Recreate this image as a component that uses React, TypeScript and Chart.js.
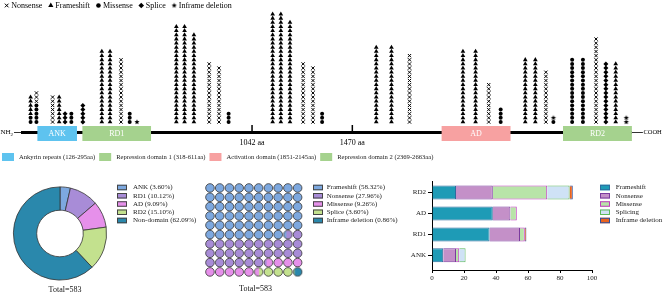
import React, { useEffect, useRef } from 'react';
import { Chart, registerables } from 'chart.js';
import { drawPoint } from 'chart.js/helpers';

Chart.register(...registerables);

const FONT = '"Liberation Serif", "Times New Roman", serif';
const f = (size: number) => `${size}px ${FONT}`;

// ---------------- Panel A: mutation map along the protein ----------------
const mutationTypes = ['Nonsense', 'Frameshift', 'Missense', 'Splice', 'Inframe deletion'];
// each entry is one stacked segment; entries sharing a position stack bottom-up
const clusterAa = [97, 97, 122, 122, 191, 219, 244, 271, 320, 401, 436, 483, 520, 551, 719, 754, 794, 859, 901, 942,
  1130, 1165, 1204, 1260, 1302, 1341, 1572, 1637, 1714, 1942, 1996, 2052, 2103, 2208, 2251, 2296, 2328, 2328,
  2408, 2454, 2510, 2552, 2594, 2639];
const clusterType = ['Missense', 'Frameshift', 'Missense', 'Nonsense', 'Nonsense', 'Frameshift', 'Splice', 'Missense',
  'Splice', 'Frameshift', 'Frameshift', 'Nonsense', 'Missense', 'Inframe deletion', 'Frameshift', 'Frameshift',
  'Frameshift', 'Nonsense', 'Nonsense', 'Missense', 'Frameshift', 'Frameshift', 'Frameshift', 'Nonsense', 'Nonsense',
  'Missense', 'Frameshift', 'Frameshift', 'Nonsense', 'Frameshift', 'Frameshift', 'Nonsense', 'Missense', 'Frameshift',
  'Frameshift', 'Nonsense', 'Missense', 'Inframe deletion', 'Missense', 'Missense', 'Nonsense', 'Splice', 'Frameshift',
  'Inframe deletion'];
const clusterCount = [2, 5, 5, 3, 7, 7, 3, 3, 5, 18, 18, 16, 3, 1, 24, 24, 22, 15, 14, 3, 27, 27, 25, 15, 14, 3, 19,
  19, 17, 18, 18, 10, 4, 16, 16, 13, 1, 1, 16, 16, 21, 15, 15, 2];
const proteinLength = 2663;
const axisTickAa = [1042, 1470];
const domainNames = ['ANK', 'RD1', 'AD', 'RD2'];
const domainLegendNames = ['Ankyrin repeats', 'Repression domain 1', 'Activation domain', 'Repression domain 2'];
const domainStart = [126, 318, 1851, 2369];
const domainEnd = [295, 611, 2145, 2663];
const domainColors = ['#5EC3EF', '#A5D28E', '#F7A1A1', '#A5D28E'];

// ---------------- Panel B: share by domain ----------------
const shareLabels = ['ANK', 'RD1', 'AD', 'RD2', 'Non-domain'];
const sharePct = [3.6, 10.12, 9.09, 15.1, 62.09];
const shareColors = ['#7DA8DF', '#A88CD7', '#E690EA', '#C3E18E', '#2A88AC'];

// ---------------- Panel C: share by mutation type ----------------
const typeLabels = ['Frameshift', 'Nonsense', 'Missense', 'Splice', 'Inframe deletion'];
const typePct = [58.32, 27.96, 9.26, 3.6, 0.86];
const typeColors = ['#7DA8DF', '#A88CD7', '#E690EA', '#C3E18E', '#2A88AC'];
const totalMutations = 583;

// ---------------- Panel D: mutation types per domain ----------------
const barDomains = ['ANK', 'RD1', 'AD', 'RD2'];
const barTypes = ['Frameshift', 'Nonsense', 'Missense', 'Splicing', 'Inframe deletion'];
const barFrameshift = [7, 36, 38, 15];
const barNonsense = [8, 19, 11, 23];
const barMissense = [2, 3, 4, 34];
const barSplicing = [4, 0, 0, 14];
const barInframe = [0, 1, 0, 2];
const barFill = ['#1E9BB6', '#C490C8', '#B8E4A8', '#CFE2F6', '#EA6420'];
const barStroke = ['#2D6B9E', '#7B3A9E', '#C23CC2', '#5DB85D', '#2D4F9E'];

// ---------------- helpers ----------------
function makeStar(r: number) {
  const s = Math.ceil(2 * r + 2);
  const c = document.createElement('canvas');
  c.width = s; c.height = s;
  const g = c.getContext('2d')!;
  g.fillStyle = '#000';
  g.beginPath();
  for (let i = 0; i < 10; i++) {
    const rr = i % 2 === 0 ? r : r * 0.45;
    const a = -Math.PI / 2 + (i * Math.PI) / 5;
    g.lineTo(s / 2 + rr * Math.cos(a), s / 2 + rr * Math.sin(a));
  }
  g.closePath();
  g.fill();
  return c;
}

function splitCircle(r: number, colA: string, colB: string, frac: number) {
  const s = Math.ceil(2 * r + 2);
  const c = document.createElement('canvas');
  c.width = s; c.height = s;
  const g = c.getContext('2d')!;
  const cx = s / 2, cy = s / 2;
  g.save();
  g.beginPath(); g.arc(cx, cy, r, 0, Math.PI * 2); g.clip();
  g.fillStyle = colB; g.fillRect(0, 0, s, s);
  g.fillStyle = colA; g.fillRect(cx - r, 0, 2 * r * frac, s);
  g.restore();
  g.beginPath(); g.arc(cx, cy, r, 0, Math.PI * 2);
  g.strokeStyle = '#333'; g.lineWidth = 0.8; g.stroke();
  return c;
}

function stackedPoints(type: string) {
  const heights: Record<number, number> = {};
  const pts: { x: number; y: number }[] = [];
  clusterAa.forEach((aa, i) => {
    const base = heights[aa] || 0;
    if (clusterType[i] === type) {
      for (let k = 1; k <= clusterCount[i]; k++) pts.push({ x: aa, y: base + k });
    }
    heights[aa] = base + clusterCount[i];
  });
  return pts;
}

type LegendItem = { label: string; fill: string; stroke: string };
function drawBoxLegend(ctx: CanvasRenderingContext2D, items: LegendItem[], x: number, y0: number, dy: number, textX: number) {
  ctx.save();
  ctx.font = f(7);
  ctx.textBaseline = 'middle';
  ctx.textAlign = 'left';
  items.forEach((it, i) => {
    const y = y0 + i * dy;
    ctx.fillStyle = it.fill;
    ctx.fillRect(x, y - 2.75, 10, 5.5);
    ctx.strokeStyle = it.stroke;
    ctx.lineWidth = 1;
    ctx.strokeRect(x + 0.5, y - 2.25, 9, 4.5);
    ctx.fillStyle = '#222';
    ctx.fillText(it.label, textX, y);
  });
  ctx.restore();
}

const symbolStyle: Record<string, { style: any; r: number; bw: number }> = {};

export default function App() {
  const topRef = useRef<HTMLCanvasElement>(null);
  const donutRef = useRef<HTMLCanvasElement>(null);
  const waffleRef = useRef<HTMLCanvasElement>(null);
  const barRef = useRef<HTMLCanvasElement>(null);

  useEffect(() => {
    const star = makeStar(2.7);
    symbolStyle['Nonsense'] = { style: 'crossRot', r: 2.3, bw: 1 };
    symbolStyle['Frameshift'] = { style: 'triangle', r: 2.7, bw: 0 };
    symbolStyle['Missense'] = { style: 'circle', r: 2.0, bw: 0 };
    symbolStyle['Splice'] = { style: 'rectRot', r: 2.5, bw: 0 };
    symbolStyle['Inframe deletion'] = { style: star, r: 2.7, bw: 0 };

    const charts: Chart[] = [];

    // ---------- top mutation map ----------
    const proteinPlugin = {
      id: 'protein',
      beforeDatasetsDraw(chart: any) {
        const { ctx } = chart;
        const x = chart.scales.x;
        const yLine = 132.5;
        ctx.save();
        ctx.fillStyle = '#000';
        ctx.strokeStyle = '#000';
        ctx.textBaseline = 'middle';
        ctx.textAlign = 'left';
        ctx.font = f(7);
        ctx.fillText('NH', 0.5, yLine);
        const nhW = ctx.measureText('NH').width;
        ctx.font = f(5);
        ctx.fillText('2', 0.5 + nhW, yLine + 2.5);
        ctx.lineWidth = 0.8;
        ctx.beginPath(); ctx.moveTo(14, yLine); ctx.lineTo(21, yLine); ctx.stroke();
        const xEnd = x.getPixelForValue(proteinLength);
        ctx.lineWidth = 3;
        ctx.beginPath(); ctx.moveTo(21, yLine); ctx.lineTo(xEnd, yLine); ctx.stroke();
        ctx.lineWidth = 0.8;
        ctx.beginPath(); ctx.moveTo(xEnd, yLine); ctx.lineTo(xEnd + 11, yLine); ctx.stroke();
        ctx.font = f(6.5);
        ctx.fillText('COOH', xEnd + 11.5, yLine);
        axisTickAa.forEach((v) => {
          const px = x.getPixelForValue(v);
          ctx.lineWidth = 1.5;
          ctx.beginPath(); ctx.moveTo(px, 125); ctx.lineTo(px, yLine); ctx.stroke();
        });
        domainNames.forEach((n, i) => {
          const x0 = x.getPixelForValue(domainStart[i]);
          const x1 = x.getPixelForValue(domainEnd[i]);
          ctx.fillStyle = domainColors[i];
          ctx.fillRect(x0, 126, x1 - x0, 15);
          ctx.fillStyle = '#fff';
          ctx.font = f(8);
          ctx.textAlign = 'center';
          ctx.fillText(n, (x0 + x1) / 2, 133.8);
          ctx.textAlign = 'left';
        });
        ctx.restore();
      },
      afterDraw(chart: any) {
        const { ctx } = chart;
        ctx.save();
        // mutation symbol legend
        ctx.font = f(8);
        ctx.textBaseline = 'middle';
        ctx.textAlign = 'left';
        let cx = 6.7;
        const ly = 5.5;
        mutationTypes.forEach((t) => {
          const st = symbolStyle[t];
          ctx.fillStyle = '#000';
          ctx.strokeStyle = '#000';
          ctx.lineWidth = st.bw || 1;
          drawPoint(ctx, { pointStyle: st.style, radius: st.r + 0.3, rotation: 0, borderWidth: st.bw } as any, cx, ly);
          const tx = cx + 4.5;
          ctx.fillStyle = '#000';
          ctx.fillText(t, tx, ly);
          cx = tx + ctx.measureText(t).width + 8.5;
        });
        // domain legend
        ctx.font = f(6.6);
        let bx = 2;
        const dy = 157;
        domainLegendNames.forEach((n, i) => {
          ctx.fillStyle = domainColors[i];
          ctx.fillRect(bx, dy - 4, 12, 8);
          const label = `${n} (${domainStart[i]}-${domainEnd[i]}aa)`;
          ctx.fillStyle = '#222';
          ctx.fillText(label, bx + 17, dy);
          bx = bx + 17 + ctx.measureText(label).width + 4;
        });
        ctx.restore();
      },
    };

    charts.push(new Chart(topRef.current!, {
      type: 'scatter',
      data: {
        datasets: mutationTypes.map((t) => ({
          label: t,
          data: stackedPoints(t),
          pointStyle: symbolStyle[t].style,
          pointRadius: symbolStyle[t].r,
          pointBackgroundColor: '#000',
          pointBorderColor: '#000',
          pointBorderWidth: symbolStyle[t].bw,
          clip: false,
        })),
      } as any,
      options: {
        responsive: false,
        animation: false,
        events: [],
        layout: { padding: { top: 10, bottom: 17, left: 0, right: 0 } },
        scales: {
          x: {
            type: 'linear',
            min: -12.2,
            max: 2800,
            border: { display: false },
            grid: { display: false, drawTicks: false },
            ticks: {
              font: { family: FONT, size: 8 },
              color: '#000',
              padding: 5,
              autoSkip: false,
              maxRotation: 0,
              callback: (v: any) => `${v} aa`,
            },
            afterBuildTicks: (s: any) => { s.ticks = axisTickAa.map((v) => ({ value: v })); },
            afterFit: (s: any) => { s.height = 20; },
          },
          y: { display: false, min: -1.65, max: 28 },
        },
        plugins: { legend: { display: false }, tooltip: { enabled: false } },
      } as any,
      plugins: [proteinPlugin],
    }));

    // ---------- donut ----------
    const donutPlugin = {
      id: 'donutText',
      afterDraw(chart: any) {
        const { ctx } = chart;
        drawBoxLegend(ctx, shareLabels.map((l, i) => ({ label: `${l} (${sharePct[i].toFixed(2)}%)`, fill: shareColors[i], stroke: '#444' })), 117, 17.5, 8.25, 133);
        ctx.save();
        ctx.font = f(8);
        ctx.fillStyle = '#111';
        ctx.textAlign = 'center';
        ctx.textBaseline = 'middle';
        ctx.fillText(`Total=${totalMutations}`, 65, 119.5);
        ctx.restore();
      },
    };
    charts.push(new Chart(donutRef.current!, {
      type: 'doughnut',
      data: {
        labels: shareLabels,
        datasets: [{ data: sharePct, backgroundColor: shareColors, borderColor: '#333', borderWidth: 0.8 }],
      },
      options: {
        responsive: false,
        animation: false,
        events: [],
        cutout: '50%',
        layout: { padding: { left: 13, top: 16.5, right: 93, bottom: 16.5 } },
        plugins: { legend: { display: false }, tooltip: { enabled: false } },
      } as any,
      plugins: [donutPlugin],
    }));

    // ---------- waffle ----------
    const bounds: number[] = [];
    let acc = 0;
    typePct.forEach((p) => { acc += p; bounds.push(acc); });
    const cellPts: { x: number; y: number }[] = [];
    const cellColors: string[] = [];
    const cellStyles: any[] = [];
    for (let i = 0; i < 100; i++) {
      const lo = i, hi = i + 1;
      const parts: { k: number; a: number }[] = [];
      typePct.forEach((_, k) => {
        const s = k === 0 ? 0 : bounds[k - 1];
        const e = k === typePct.length - 1 ? 100 : bounds[k];
        const a = Math.min(hi, e) - Math.max(lo, s);
        if (a > 1e-6) parts.push({ k, a });
      });
      cellPts.push({ x: (i % 10) + 1, y: Math.floor(i / 10) + 1 });
      cellColors.push(typeColors[parts[0].k]);
      if (parts.length > 1) {
        cellStyles.push(splitCircle(4.3, typeColors[parts[0].k], typeColors[parts[1].k], parts[0].a));
      } else {
        cellStyles.push('circle');
      }
    }
    const wafflePlugin = {
      id: 'waffleText',
      afterDraw(chart: any) {
        const { ctx } = chart;
        drawBoxLegend(ctx, typeLabels.map((l, i) => ({ label: `${l} (${typePct[i].toFixed(2)}%)`, fill: typeColors[i], stroke: '#444' })), 113, 17.5, 8.25, 126.7);
        ctx.save();
        ctx.font = f(8);
        ctx.fillStyle = '#111';
        ctx.textAlign = 'center';
        ctx.textBaseline = 'middle';
        ctx.fillText(`Total=${totalMutations}`, 55.5, 118.5);
        ctx.restore();
      },
    };
    charts.push(new Chart(waffleRef.current!, {
      type: 'scatter',
      data: {
        datasets: [{
          data: cellPts,
          pointStyle: cellStyles,
          pointRadius: 4.3,
          pointBackgroundColor: cellColors,
          pointBorderColor: '#333',
          pointBorderWidth: 0.8,
          clip: false,
        }],
      } as any,
      options: {
        responsive: false,
        animation: false,
        events: [],
        layout: { padding: { left: 2.5, top: 13.3, right: 107.5, bottom: 20.4 } },
        scales: {
          x: { display: false, min: 0.5, max: 10.5 },
          y: { display: false, min: 0.5, max: 10.5, reverse: true },
        },
        plugins: { legend: { display: false }, tooltip: { enabled: false } },
      } as any,
      plugins: [wafflePlugin],
    }));

    // ---------- stacked bars ----------
    const barSeries = [barFrameshift, barNonsense, barMissense, barSplicing, barInframe];
    const barPlugin = {
      id: 'barLegend',
      afterDraw(chart: any) {
        drawBoxLegend(chart.ctx, barTypes.map((l, i) => ({ label: l, fill: barFill[i], stroke: barStroke[i] })), 200, 17.5, 8.25, 215.7);
      },
    };
    charts.push(new Chart(barRef.current!, {
      type: 'bar',
      data: {
        datasets: barTypes.map((t, k) => ({
          label: t,
          data: barSeries[k].map((v, i) => ({ x: v, y: i + 1 })),
          backgroundColor: barFill[k],
          borderColor: barStroke[k],
          borderWidth: 1,
          categoryPercentage: 1,
          barPercentage: 0.67,
        })),
      } as any,
      options: {
        indexAxis: 'y',
        responsive: false,
        animation: false,
        events: [],
        layout: { padding: { left: 0, top: 11, right: 77, bottom: 0 } },
        scales: {
          x: {
            type: 'linear',
            stacked: true,
            min: 0,
            max: 100,
            border: { display: true, color: '#000', width: 1 },
            grid: { display: true, drawOnChartArea: false, color: '#000', tickLength: 3 },
            ticks: { stepSize: 20, font: { family: FONT, size: 7 }, color: '#222', padding: 1, maxRotation: 0 },
            afterFit: (s: any) => { s.height = 27; },
          },
          y: {
            type: 'linear',
            stacked: true,
            min: 0.3,
            max: 4.55,
            offset: false,
            border: { display: true, color: '#000', width: 1 },
            grid: { display: true, drawOnChartArea: false, color: '#000', tickLength: 4, offset: false },
            ticks: {
              font: { family: FONT, size: 7 },
              color: '#222',
              padding: 2,
              autoSkip: false,
              callback: (v: any) => barDomains[Number(v) - 1] ?? '',
            },
            afterBuildTicks: (s: any) => { s.ticks = barDomains.map((_, i) => ({ value: i + 1 })); },
            afterFit: (s: any) => { s.width = 32; },
          },
        },
        plugins: { legend: { display: false }, tooltip: { enabled: false } },
      } as any,
      plugins: [barPlugin],
    }));

    return () => charts.forEach((c) => c.destroy());
  }, []);

  return (
    <div style={{ position: 'absolute', left: 0, top: 0, width: 669, height: 297, background: '#fff', overflow: 'hidden' }}>
      <canvas ref={topRef} width={669} height={170} style={{ position: 'absolute', left: 0, top: 0, width: 669, height: 170 }} />
      <canvas ref={donutRef} width={200} height={127} style={{ position: 'absolute', left: 0, top: 170, width: 200, height: 127 }} />
      <canvas ref={waffleRef} width={210} height={127} style={{ position: 'absolute', left: 200, top: 170, width: 210, height: 127 }} />
      <canvas ref={barRef} width={269} height={127} style={{ position: 'absolute', left: 400, top: 170, width: 269, height: 127 }} />
    </div>
  );
}
